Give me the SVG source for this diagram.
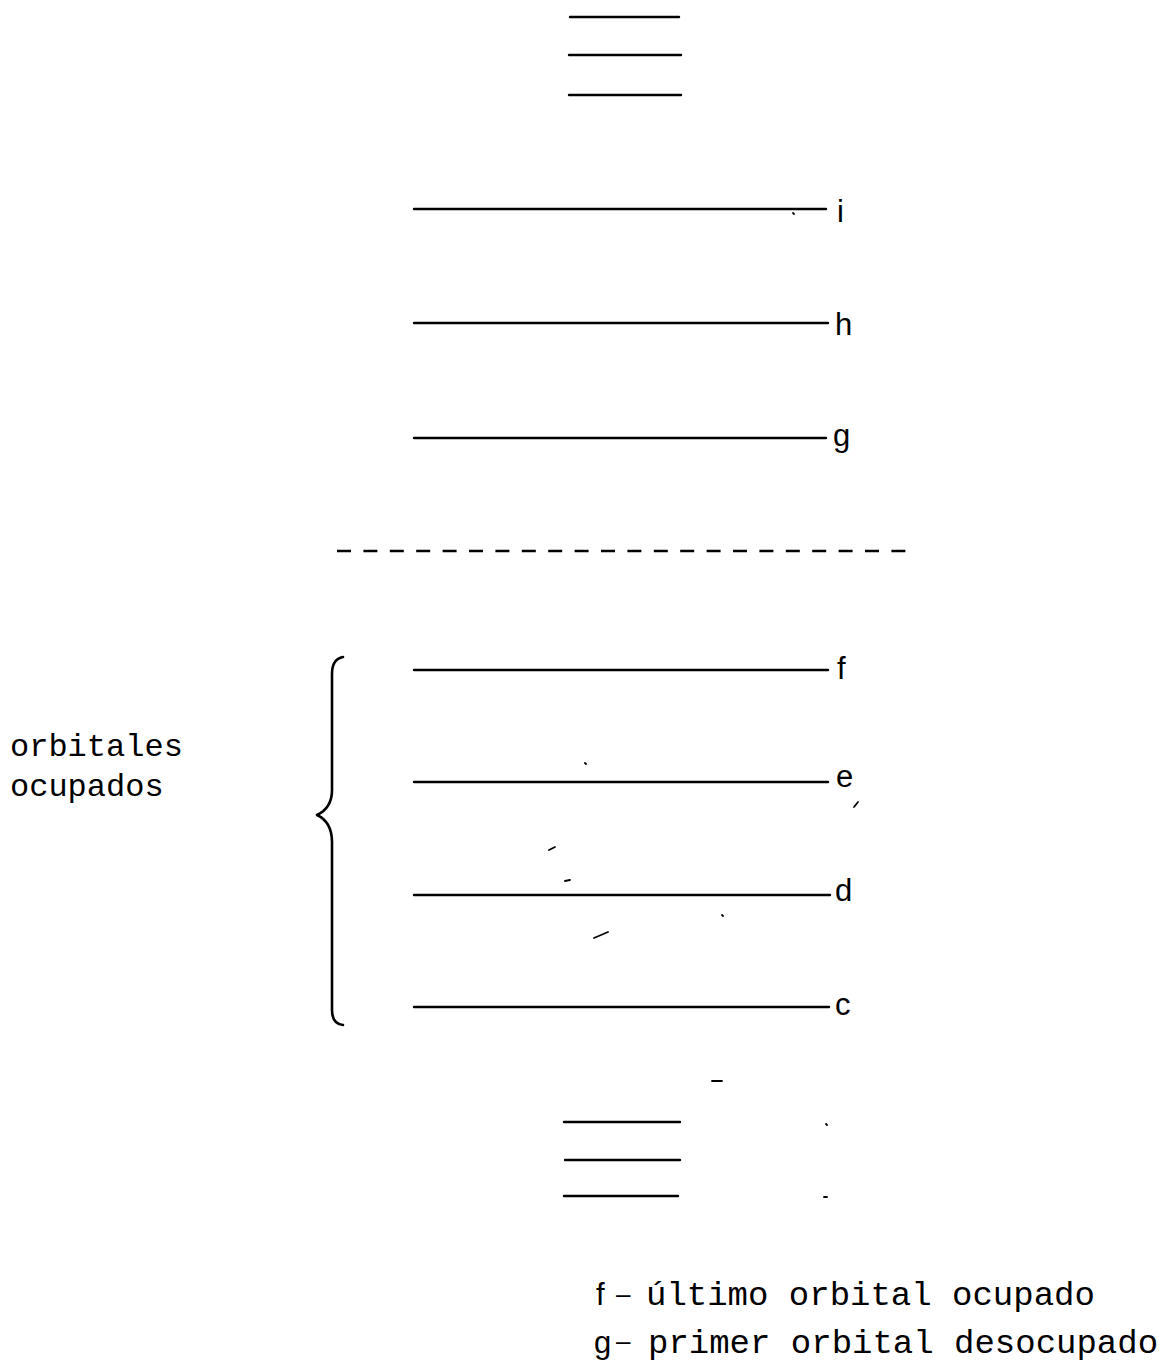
<svg xmlns="http://www.w3.org/2000/svg" width="1162" height="1371" viewBox="0 0 1162 1371">
  <style>
    .lvl { stroke: #000; stroke-width: 2.4; fill: none; stroke-linecap: round; }
    .brace { stroke: #000; stroke-width: 2.6; fill: none; stroke-linecap: round; stroke-linejoin: round; }
    .dash { stroke: #000; stroke-width: 2.6; fill: none; stroke-dasharray: 14 12.4; }
    .lab { font-family: "Liberation Sans", Arial, sans-serif; font-size: 31px; fill: #000; }
    .sep { font-family: "Liberation Sans", Arial, sans-serif; font-size: 26px; fill: #000; }
    .mono { font-family: "Liberation Mono", "Courier New", monospace; font-size: 32px; fill: #000; }
    .mono-l { font-family: "Liberation Mono", "Courier New", monospace; font-size: 34px; fill: #000; }
    .speck { stroke: #000; stroke-width: 1.8; fill: none; stroke-linecap: round; }
  </style>
  <rect width="1162" height="1371" fill="#fff"/>

  <!-- upper cluster of levels -->
  <g id="upper-levels">
    <line class="lvl" x1="570" y1="17" x2="679" y2="17"/>
    <line class="lvl" x1="569" y1="55" x2="681" y2="55"/>
    <line class="lvl" x1="569" y1="95" x2="681" y2="95"/>
  </g>

  <g id="level-i">
    <line class="lvl" x1="414" y1="209" x2="826" y2="209"/>
    <text class="lab" x="837" y="222">i</text>
  </g>
  <g id="level-h">
    <line class="lvl" x1="414" y1="323" x2="828" y2="323"/>
    <text class="lab" x="835" y="335">h</text>
  </g>
  <g id="level-g">
    <line class="lvl" x1="414" y1="438" x2="826" y2="438"/>
    <text class="lab" x="833" y="446">g</text>
  </g>

  <!-- separation between occupied and empty levels -->
  <g id="separator">
    <line class="dash" x1="337" y1="551" x2="906" y2="551"/>
  </g>

  <g id="level-f">
    <line class="lvl" x1="414" y1="670" x2="828" y2="670"/>
    <text class="lab" x="837" y="679">f</text>
  </g>
  <g id="level-e">
    <line class="lvl" x1="414" y1="782" x2="828" y2="782"/>
    <text class="lab" x="836" y="787">e</text>
  </g>
  <g id="level-d">
    <line class="lvl" x1="414" y1="895" x2="830" y2="895"/>
    <text class="lab" x="835" y="901">d</text>
  </g>
  <g id="level-c">
    <line class="lvl" x1="414" y1="1007" x2="829" y2="1007"/>
    <text class="lab" x="835" y="1015">c</text>
  </g>

  <!-- lower cluster of levels -->
  <g id="lower-levels">
    <line class="lvl" x1="564" y1="1122" x2="680" y2="1122"/>
    <line class="lvl" x1="565" y1="1160" x2="680" y2="1160"/>
    <line class="lvl" x1="564" y1="1196" x2="678" y2="1196"/>
  </g>

  <!-- brace grouping the occupied levels -->
  <g id="brace-occupied">
    <path class="brace" d="M343,657 Q332,659 332,674 L332,790 Q332,808 317,815 Q332,822 332,842 L332,1010 Q332,1024 343,1025"/>
    <text class="mono" x="10" y="756">orbitales</text>
    <text class="mono" x="10" y="796">ocupados</text>
  </g>

  <!-- legend -->
  <g id="legend">
    <text class="lab" x="596" y="1305">f</text>
    <text class="sep" x="616" y="1303">–</text>
    <text class="mono-l" x="646" y="1305">último orbital ocupado</text>
    <text class="lab" x="594" y="1353">g</text>
    <text class="sep" x="616" y="1350">–</text>
    <text class="mono-l" x="648" y="1353">primer orbital desocupado</text>
  </g>

  <!-- loose ink marks -->
  <g id="marks">
    <path class="speck" d="M793,213 l1,1"/>
    <path class="speck" d="M585,763 l1,1"/>
    <path class="speck" d="M858,802 l-4,5"/>
    <path class="speck" d="M549,850 l6,-3"/>
    <path class="speck" d="M565,881 l5,-1"/>
    <path class="speck" d="M594,938 l14,-6"/>
    <path class="speck" d="M722,915 l1,1"/>
    <path class="speck" d="M712,1081 l10,0"/>
    <path class="speck" d="M826,1124 l1,1"/>
    <path class="speck" d="M824,1197 l3,0"/>
  </g>
</svg>
